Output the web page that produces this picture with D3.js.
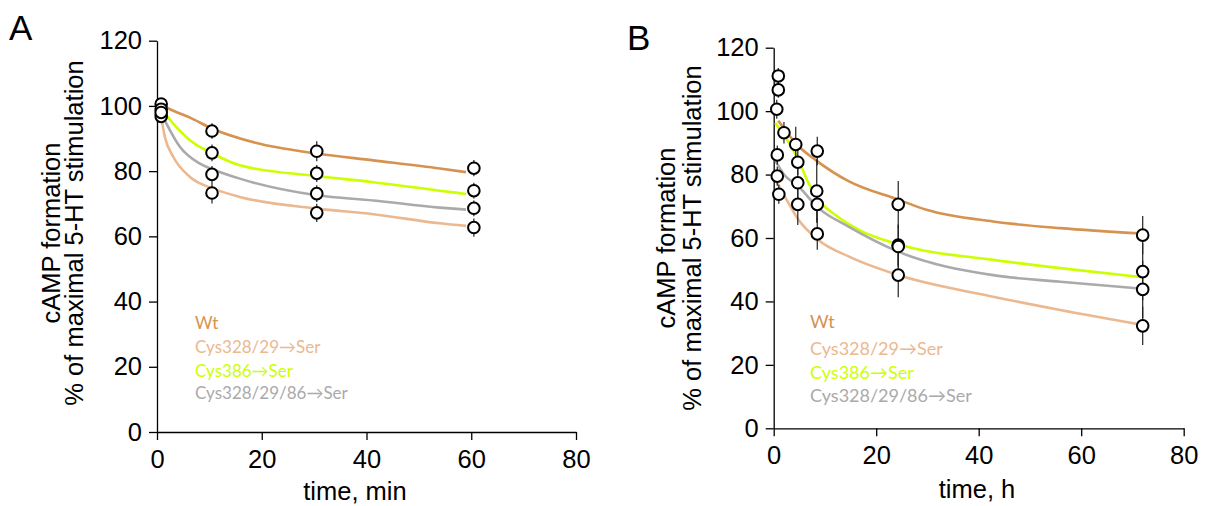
<!DOCTYPE html>
<html><head><meta charset="utf-8">
<script src="https://cdn.jsdelivr.net/npm/d3@7"></script>
<style>
body{margin:0;background:#fff;}
svg{display:block;}
text{font-family:"Liberation Sans",Arial,Helvetica,sans-serif;fill:#000;}
.leg{font-family:Lato,"Open Sans",sans-serif;}
</style></head><body>
<svg id="chart" width="1205" height="506"></svg>
<script>
// ---------- data ----------
const seriesNames = ["Wt", "Cys328/29\u2192Ser", "Cys386\u2192Ser", "Cys328/29/86\u2192Ser"];
const seriesColors = ["#d6924f", "#ebb890", "#ccff00", "#aaaaaa"];
const xTicks = [0, 20, 40, 60, 80];
const yTicks = [0, 20, 40, 60, 80, 100, 120];

// Panel A: measured points [time(min), value, sem]
const ptsA_wt      = [[0.8, 100.6, 1.5], [10.5, 92.3, 2.4], [30.5, 86.1, 3.1], [60.5, 80.9, 2.5]];
const ptsA_c32829  = [[0.8, 96.8, 1.5], [10.5, 73.3, 3.2], [30.5, 67.2, 2.8], [60.5, 62.7, 2.8]];
const ptsA_c386    = [[0.8, 99.0, 1.5], [10.5, 85.6, 2.6], [30.5, 79.3, 2.6], [60.5, 74.0, 2.4]];
const ptsA_c3282986= [[0.8, 98.0, 1.5], [10.5, 79.0, 2.6], [30.5, 73.1, 2.6], [60.5, 68.6, 2.4]];
// Panel A: fitted curves [time(min), value]
const fitA_wt      = [[0.8, 100.5], [3, 98.6], [6.3, 96.4], [10.6, 93.0], [19, 88.6], [30.5, 85.4], [41.3, 83.3], [54, 80.8], [59, 79.7]];
const fitA_c32829  = [[0.8, 96.5], [1.5, 90.5], [3.1, 84.4], [6.3, 78.2], [10.6, 74.7], [15.8, 72.1], [30.5, 68.5], [41.3, 66.8], [54, 64.0], [59, 63.2]];
const fitA_c386    = [[0.8, 99.0], [3.1, 94.6], [6.3, 89.5], [10.6, 85.4], [15.8, 81.8], [30.5, 78.5], [41.3, 76.6], [54, 74.0], [59, 73.0]];
const fitA_c3282986= [[0.8, 97.8], [1.8, 94.6], [4.4, 87.4], [8.2, 82.3], [10.6, 80.6], [15.8, 77.7], [30.5, 72.6], [41.3, 71.0], [54, 68.8], [59, 68.2]];

// Panel B: measured points [time(h), value, sem]
const ptsB_wt      = [[0.9, 106.7, 2.5], [2.0, 93.2, 3.4], [4.3, 89.5, 5.6], [8.5, 87.4, 4.5], [24.3, 70.6, 7.4], [72, 60.9, 6.0]];
const ptsB_c32829  = [[1.0, 73.8, 3.0], [4.7, 70.6, 6.5], [8.5, 61.3, 5.0], [24.3, 48.3, 7.0], [72, 32.3, 6.0]];
const ptsB_c386    = [[0.9, 111.1, 2.5], [0.6, 100.6, 3.0], [4.7, 83.9, 4.0], [8.4, 74.8, 10.0], [24.3, 57.8, 6.5], [72, 49.4, 9.0]];
const ptsB_c3282986= [[0.7, 86.2, 3.0], [0.7, 79.5, 3.0], [4.7, 77.4, 5.0], [8.5, 70.6, 5.0], [24.3, 57.3, 6.5], [72, 43.8, 9.0]];
// Panel B: fitted curves [time(h), value]
const fitB_wt      = [[0.9, 97.0], [4.8, 89.0], [8.0, 84.8], [14.6, 77.9], [24.3, 72.1], [29.8, 68.9], [42.8, 65.2], [55.9, 63.1], [72, 61.4]];
const fitB_c32829  = [[0.3, 78.5], [2.2, 73.0], [4.8, 65.8], [8.7, 59.4], [14.6, 54.2], [24.3, 48.3], [42.8, 41.5], [55.9, 37.3], [72, 32.6]];
const fitB_c386    = [[0.3, 96.3], [4.8, 84.8], [6.8, 77.3], [8.7, 72.1], [12, 67.3], [16.8, 62.4], [24.3, 58.0], [42.8, 53.1], [55.9, 50.5], [72, 47.6]];
const fitB_c3282986= [[0.2, 84.8], [2.0, 80.0], [4.8, 76.3], [8.7, 69.5], [14.6, 63.6], [24.3, 55.7], [42.8, 48.3], [55.9, 46.2], [72, 44.0]];

// ---------- drawing ----------
const svg = d3.select("#chart");

function panel(cfg) {
  const x = d3.scaleLinear().domain([0, 80]).range([cfg.x0, cfg.x1]);
  const y = d3.scaleLinear().domain([0, 120]).range([cfg.y0, cfg.y1]);
  const g = svg.append("g");

  const ax = g.append("g").attr("transform", `translate(0,${cfg.y0})`)
    .call(d3.axisBottom(x).tickValues(xTicks).tickSize(8).tickSizeOuter(0).tickPadding(10));
  const ay = g.append("g").attr("transform", `translate(${cfg.x0},0)`)
    .call(d3.axisLeft(y).tickValues(yTicks).tickSize(8).tickSizeOuter(0).tickPadding(7));
  [ax, ay].forEach(a => {
    a.selectAll("path,line").attr("stroke", "#000").attr("stroke-width", 1.3);
    a.selectAll("text").attr("font-size", 25.5).attr("font-family", "Liberation Sans, Arial, sans-serif");
  });

  const line = d3.line().x(d => x(d[0])).y(d => y(d[1])).curve(d3.curveMonotoneX);
  cfg.fits.forEach((f, i) => {
    g.append("path").datum(f).attr("d", line).attr("fill", "none")
      .attr("stroke", seriesColors[i]).attr("stroke-width", 2.6);
  });
  cfg.pts.forEach(p => {
    g.selectAll(null).data(p).enter().append("line")
      .attr("x1", d => x(d[0])).attr("x2", d => x(d[0]))
      .attr("y1", d => y(d[1] - d[2])).attr("y2", d => y(d[1] + d[2]))
      .attr("stroke", "#222").attr("stroke-width", 1.2);
  });
  cfg.pts.forEach(p => {
    g.selectAll(null).data(p).enter().append("circle")
      .attr("cx", d => x(d[0])).attr("cy", d => y(d[1])).attr("r", 5.8)
      .attr("fill", "#fff").attr("stroke", "#000").attr("stroke-width", 2);
  });

  const cy = cfg.labelCy;
  g.append("text").attr("transform", `translate(${cfg.lab1x},${cy}) rotate(-90)`)
    .attr("text-anchor", "middle").attr("font-size", 25.5).text("cAMP formation");
  g.append("text").attr("transform", `translate(${cfg.lab2x},${cy}) rotate(-90)`)
    .attr("text-anchor", "middle").attr("font-size", 25.5).text("% of maximal 5-HT stimulation");
  g.append("text").attr("x", cfg.xlabX).attr("y", cfg.xlabY).attr("text-anchor", "middle")
    .attr("font-size", 25.5).text(cfg.xlab);
  g.append("text").attr("x", cfg.letX).attr("y", cfg.letY).attr("font-size", 35).text(cfg.letter);

  seriesNames.forEach((n, i) => {
    g.append("text").attr("class", "leg").attr("x", cfg.legX).attr("y", cfg.legY[i])
      .attr("font-size", cfg.legSize).style("fill", seriesColors[i]).text(n);
  });
}

panel({
  x0: 157, x1: 576, y0: 432, y1: 40.7,
  fits: [fitA_wt, fitA_c32829, fitA_c386, fitA_c3282986],
  pts: [ptsA_wt, ptsA_c32829, ptsA_c386, ptsA_c3282986],
  lab1x: 60, lab2x: 83, labelCy: 233,
  xlab: "time, min", xlabX: 355, xlabY: 500,
  letter: "A", letX: 9, letY: 40,
  legX: 195, legY: [329, 353, 376.5, 398.5], legSize: 17
});
panel({
  x0: 773.7, x1: 1183.7, y0: 428.3, y1: 47.7,
  fits: [fitB_wt, fitB_c32829, fitB_c386, fitB_c3282986],
  pts: [ptsB_wt, ptsB_c32829, ptsB_c386, ptsB_c3282986],
  lab1x: 675, lab2x: 701, labelCy: 238,
  xlab: "time, h", xlabX: 977, xlabY: 498,
  letter: "B", letX: 627, letY: 50,
  legX: 810, legY: [328, 355, 379, 401.5], legSize: 18
});
</script>
</body></html>
